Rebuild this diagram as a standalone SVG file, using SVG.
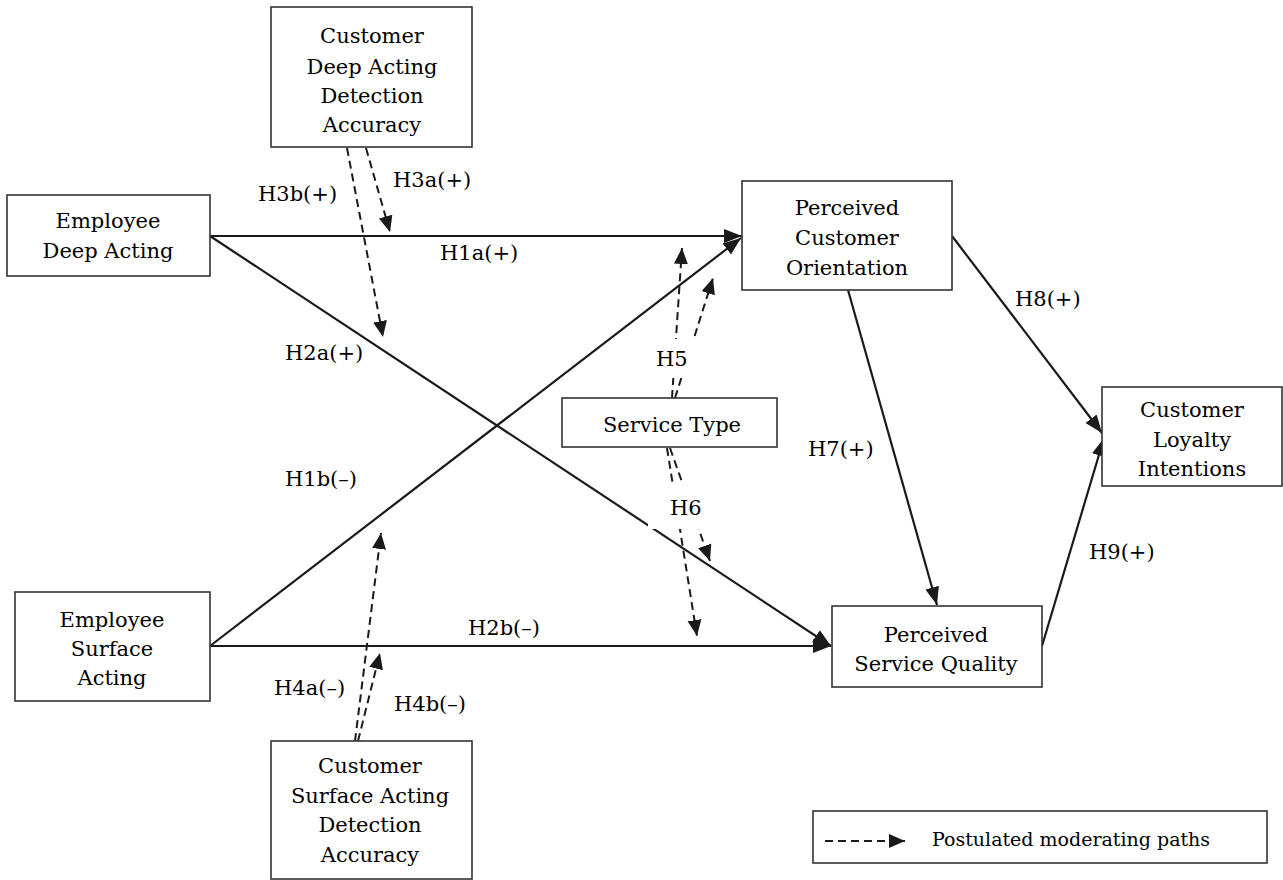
<svg xmlns="http://www.w3.org/2000/svg" width="1283" height="880" viewBox="0 0 1283 880">
<defs>
<style>
.box{fill:#fff;stroke:#333;stroke-width:1.6}
.t{font-family:"DejaVu Serif","Liberation Serif",serif;font-size:21px;fill:#000;text-anchor:middle}
.lbl{font-family:"DejaVu Serif","Liberation Serif",serif;font-size:21px;fill:#000}
.leg{font-family:"DejaVu Serif","Liberation Serif",serif;font-size:19px;fill:#000}
.solid{fill:none;stroke:#1a1a1a;stroke-width:2.2;marker-end:url(#ah)}
.dash{fill:none;stroke:#1a1a1a;stroke-width:2;stroke-dasharray:8,5;marker-end:url(#ah2)}
.bg{fill:#fff}
</style>
<marker id="ah" markerUnits="userSpaceOnUse" markerWidth="20" markerHeight="16" refX="18" refY="8" orient="auto">
<path d="M0,1 L18,8 L0,15 z" fill="#1a1a1a"/>
</marker>
<marker id="ah2" markerUnits="userSpaceOnUse" markerWidth="18" markerHeight="16" refX="16" refY="8" orient="auto">
<path d="M0,1 L16,8 L0,15 z" fill="#1a1a1a"/>
</marker>
</defs>
<rect width="1283" height="880" fill="#fff"/>
<g id="connectors">
<path class="solid" d="M210,236 L742,236"/>
<path class="solid" d="M210,236 L831,646"/>
<path class="solid" d="M210,646 L741,238"/>
<path class="solid" d="M210,646 L831,646"/>
<path class="solid" d="M848,290 L937,605"/>
<path class="solid" d="M952,236 L1102,433"/>
<path class="solid" d="M1042,646 L1104,438"/>
<path class="dash" d="M366,148 L390,232"/>
<path class="dash" d="M347,148 L383,337"/>
<path class="dash" d="M355,741 L381,533"/>
<path class="dash" d="M358,741 L380,653"/>
<path class="dash" d="M672,398 L682,248"/>
<path class="dash" d="M675,398 L713,278"/>
<path class="dash" d="M667,448 L697,636"/>
<path class="dash" d="M670,448 L710,561"/>
<rect class="bg" x="652" y="339" width="48" height="39"/>
<rect class="bg" x="648" y="482" width="72" height="47"/>
</g>
<g id="labels">
<text class="lbl" x="258" y="201">H3b(+)</text>
<text class="lbl" x="393" y="187">H3a(+)</text>
<text class="lbl" x="440" y="260">H1a(+)</text>
<text class="lbl" x="285" y="360">H2a(+)</text>
<text class="lbl" x="656" y="366">H5</text>
<text class="lbl" x="285" y="486">H1b(–)</text>
<text class="lbl" x="670" y="515">H6</text>
<text class="lbl" x="468" y="635">H2b(–)</text>
<text class="lbl" x="274" y="695">H4a(–)</text>
<text class="lbl" x="394" y="711">H4b(–)</text>
<text class="lbl" x="808" y="456">H7(+)</text>
<text class="lbl" x="1015" y="306">H8(+)</text>
<text class="lbl" x="1089" y="559">H9(+)</text>
</g>
<g id="cdada">
<rect class="box" x="271" y="7" width="201" height="140"/>
<text class="t" x="372" y="43">Customer</text>
<text class="t" x="372" y="74">Deep Acting</text>
<text class="t" x="372" y="103">Detection</text>
<text class="t" x="372" y="132">Accuracy</text>
</g>
<g id="eda">
<rect class="box" x="7" y="195" width="203" height="81"/>
<text class="t" x="108" y="228">Employee</text>
<text class="t" x="108" y="258">Deep Acting</text>
</g>
<g id="esa">
<rect class="box" x="15" y="592" width="195" height="109"/>
<text class="t" x="112" y="627">Employee</text>
<text class="t" x="112" y="656">Surface</text>
<text class="t" x="112" y="685">Acting</text>
</g>
<g id="pco">
<rect class="box" x="742" y="181" width="210" height="109"/>
<text class="t" x="847" y="215">Perceived</text>
<text class="t" x="847" y="245">Customer</text>
<text class="t" x="847" y="275">Orientation</text>
</g>
<g id="st">
<rect class="box" x="562" y="398" width="215" height="49"/>
<text class="t" x="672" y="432">Service Type</text>
</g>
<g id="cli">
<rect class="box" x="1102" y="387" width="180" height="99"/>
<text class="t" x="1192" y="417">Customer</text>
<text class="t" x="1192" y="447">Loyalty</text>
<text class="t" x="1192" y="476">Intentions</text>
</g>
<g id="psq">
<rect class="box" x="832" y="606" width="210" height="81"/>
<text class="t" x="936" y="642">Perceived</text>
<text class="t" x="936" y="671">Service Quality</text>
</g>
<g id="csada">
<rect class="box" x="271" y="741" width="201" height="138"/>
<text class="t" x="370" y="773">Customer</text>
<text class="t" x="370" y="803">Surface Acting</text>
<text class="t" x="370" y="832">Detection</text>
<text class="t" x="370" y="862">Accuracy</text>
</g>
<g id="legend">
<rect class="box" x="813" y="811" width="454" height="52"/>
<path class="dash" d="M825,841 L905,841" stroke-dasharray="7,5"/>
<text class="leg" x="932" y="846">Postulated moderating paths</text>
</g>
</svg>
